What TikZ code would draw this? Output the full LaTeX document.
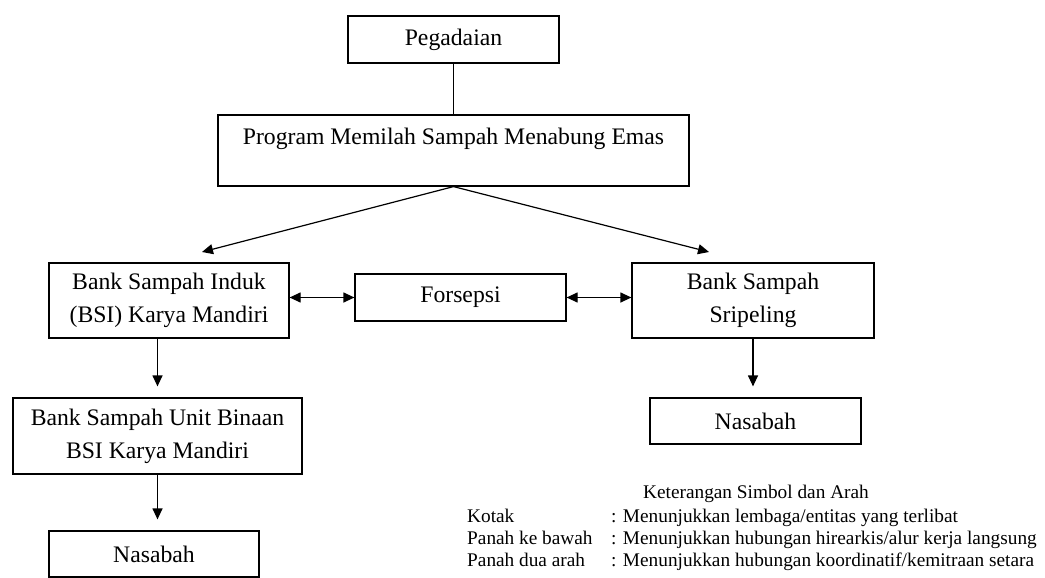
\documentclass[tikz,border=0pt]{standalone}
\usepackage{fontspec}
\setmainfont{Liberation Serif}
\usetikzlibrary{arrows.meta}

\begin{document}
\begin{tikzpicture}[x=1pt, y=-1pt,
    kotak/.style={draw, line width=1.2pt, inner sep=0pt, align=center, font=\fontsize{23.7}{33}\selectfont},
    panah/.style={-{Triangle[length=11pt,width=10pt]}, line width=1.2pt},
    duaarah/.style={{Triangle[length=11pt,width=10pt]}-{Triangle[length=11pt,width=10pt]}, line width=1.2pt},
    ket/.style={anchor=base west, inner sep=0pt, font=\fontsize{19.3}{21.5}\selectfont}]
  \useasboundingbox (0,0) rectangle (1045,578);
  \node[kotak, minimum width=211pt, minimum height=47pt] (peg) at (453.5,39.5) {Pegadaian};
  \node[kotak, minimum width=471pt, minimum height=71pt] (prog) at (453.5,150.5) {Program Memilah Sampah Menabung Emas\\[-5pt]\mbox{}};
  \node[kotak, minimum width=240pt, minimum height=75pt] (induk) at (169,300.5) {Bank Sampah Induk\\(BSI) Karya Mandiri};
  \node[kotak, minimum width=211pt, minimum height=47pt] (fors) at (460.5,297.5) {Forsepsi};
  \node[kotak, minimum width=242pt, minimum height=75pt] (srip) at (753,300.5) {Bank Sampah\\Sripeling};
  \node[kotak, minimum width=289pt, minimum height=76pt] (unit) at (157.5,436) {Bank Sampah Unit Binaan\\BSI Karya Mandiri};
  \node[kotak, minimum width=210pt, minimum height=46pt] (nasL) at (154,554) {Nasabah};
  \node[kotak, minimum width=211pt, minimum height=46pt] (nasR) at (755.5,421) {Nasabah};
  \coordinate (tipL) at (202,252);
  \coordinate (tipR) at (709,252);

  \draw[line width=1.2pt] (peg.south) -- (prog.north);
  \draw[panah] (prog.south) -- (tipL);
  \draw[panah] (prog.south) -- (tipR);
  \draw[duaarah] (fors.west -| induk.east) -- (fors.west);
  \draw[duaarah] (fors.east) -- (fors.east -| srip.west);
  \draw[panah, shorten >=11pt] (induk.south -| unit.north) -- (unit.north);
  \draw[panah, shorten >=11pt] (unit.south) -- (unit.south |- nasL.north);
  \draw[panah, shorten >=11pt] (srip.south) -- (srip.south |- nasR.north);

  \node[ket, anchor=base] (judul) at (756,498) {Keterangan Simbol dan Arah};
  \node[ket] (kotakL) at (467,522) {Kotak};
  \node[ket] (kotakR) at (611,522) {: Menunjukkan lembaga/entitas yang terlibat};
  \node[ket] (bawahL) at (467,544) {Panah ke bawah};
  \node[ket] (bawahR) at (611,544) {: Menunjukkan hubungan hirearkis/alur kerja langsung};
  \node[ket] (duaL) at (467,566) {Panah dua arah};
  \node[ket] (duaR) at (611,566) {: Menunjukkan hubungan koordinatif/kemitraan setara};
\end{tikzpicture}
\end{document}
